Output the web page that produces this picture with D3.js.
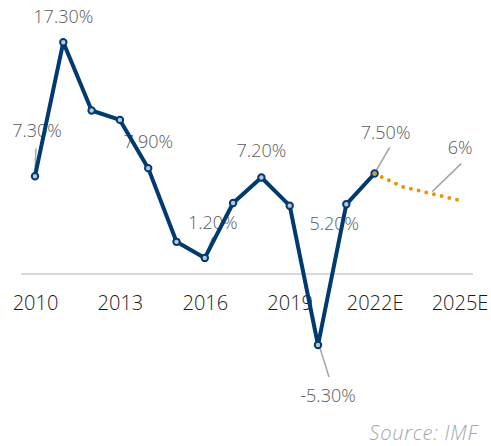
<!DOCTYPE html>
<html>
<head>
<meta charset="utf-8">
<script src="https://cdn.jsdelivr.net/npm/d3@7"></script>
<style>
  body { margin: 0; background: #fff; }
  svg { display: block; font-family: "Open Sans", sans-serif; }
</style>
</head>
<body>
<div id="chart"></div>
<script>
// GDP growth, actual + IMF estimate

const actualYears = [2010, 2011, 2012, 2013, 2014, 2015, 2016, 2017, 2018, 2019, 2020, 2021, 2022];
const growth = [7.3, 17.3, 12.2, 11.5, 7.9, 2.4, 1.2, 5.3, 7.2, 5.1, -5.3, 5.2, 7.5];

const forecastYears = [2022, 2023, 2024, 2025];
const forecast = [7.5, 6.5, 6.0, 5.5];

const tickYears = [2010, 2013, 2016, 2019, 2022, 2025];
const tickLabels = ["2010", "2013", "2016", "2019", "2022E", "2025E"];

const labelYears = [2010, 2011, 2014, 2016, 2018, 2020, 2021, 2022, 2024];
const labelTexts = ["7.30%", "17.30%", "7.90%", "1.20%", "7.20%", "-5.30%", "5.20%", "7.50%", "6%"];

const width = 491, height = 446;

const svg = d3.select("#chart")
  .append("svg")
    .attr("width", width)
    .attr("height", height);

const x = d3.scaleLinear()
  .domain([2010, 2025])
  .range([35, 459.5]);

const y = d3.scaleLinear()
  .domain([0, 10])
  .range([274, 140]);

// value lookup for labels
const valueOf = yr => {
  const i = actualYears.indexOf(yr);
  if (i >= 0) return growth[i];
  return forecast[forecastYears.indexOf(yr)];
};

// zero line
svg.append("line")
  .attr("x1", 21)
  .attr("x2", 473)
  .attr("y1", y(0))
  .attr("y2", y(0))
  .attr("stroke", "#d9d9d9")
  .attr("stroke-width", 2);

// x axis labels (no domain / ticks)
const xAxis = svg.append("g")
  .attr("transform", `translate(0, ${y(0)})`)
  .call(d3.axisBottom(x).tickValues(tickYears).tickFormat((d, i) => tickLabels[i]).tickSize(0).tickPadding(22));
xAxis.select(".domain").remove();
xAxis.selectAll("text")
  .attr("font-family", "Open Sans, sans-serif")
  .style("font-size", "20px")
  .style("font-weight", 360)
  .attr("fill", "#1a1a1a");

// label offsets from each point: [dx, dy, leader?]
const labelLayout = {
  2010: [2, -39, [1, -28, 0, -6]],
  2011: [0, -19, null],
  2014: [0, -20, null],
  2016: [8, -29, [8, -21, 1, -3]],
  2018: [0, -20.5, null],
  2020: [10, 57, [2, 3, 11, 32]],
  2021: [-12, 26, null],
  2022: [11, -35, [1, -2, 15, -26]],
  2024: [29, -40, [1, -2, 30, -30]]
};

// data labels (beneath the lines)
const labels = svg.append("g");
labelYears.forEach((yr, i) => {
  const px = x(yr), py = y(valueOf(yr));
  const [dx, dy, leader] = labelLayout[yr];
  if (leader) {
    labels.append("line")
      .attr("x1", px + leader[0])
      .attr("y1", py + leader[1])
      .attr("x2", px + leader[2])
      .attr("y2", py + leader[3])
      .attr("stroke", "#a6a6a6")
      .attr("stroke-width", 1.5);
  }
  labels.append("text")
    .attr("x", px + dx)
    .attr("y", py + dy)
    .attr("text-anchor", "middle")
    .style("font-size", "18px")
    .style("font-weight", 360)
    .attr("fill", "#595959")
    .text(labelTexts[i]);
});

// actual line
const line = d3.line()
  .x(d => x(d[0]))
  .y(d => y(d[1]));

const actual = actualYears.map((yr, i) => [yr, growth[i]]);
const est = forecastYears.map((yr, i) => [yr, forecast[i]]);

svg.append("path")
  .datum(actual)
  .attr("d", line)
  .attr("fill", "none")
  .attr("stroke", "#003a70")
  .attr("stroke-width", 4)
  .attr("stroke-linejoin", "round");

svg.selectAll("circle.pt")
  .data(actual)
  .enter()
  .append("circle")
    .attr("class", "pt")
    .attr("cx", d => x(d[0]))
    .attr("cy", d => y(d[1]))
    .attr("r", 3.2)
    .attr("fill", "#b4c8de")
    .attr("stroke", "#003a70")
    .attr("stroke-width", 2);

// forecast dotted line
svg.append("path")
  .datum(est)
  .attr("d", line)
  .attr("fill", "none")
  .attr("stroke", "#e8950e")
  .attr("stroke-width", 4)
  .attr("stroke-linecap", "round")
  .attr("stroke-dasharray", "0 7.9");

// source
svg.append("text")
  .attr("x", 478)
  .attr("y", 440)
  .attr("text-anchor", "end")
  .style("font-size", "20px")
  .style("font-style", "italic")
  .style("font-weight", 300)
  .style("letter-spacing", "0.8px")
  .attr("fill", "#a6a6a6")
  .text("Source: IMF");
</script>
</body>
</html>
